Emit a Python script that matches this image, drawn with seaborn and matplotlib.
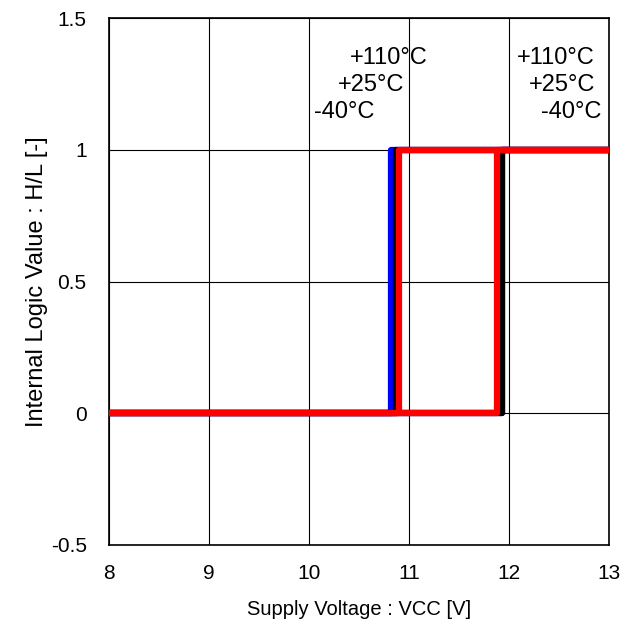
import numpy as np
import pandas as pd
import matplotlib
matplotlib.use("Agg")
import matplotlib.pyplot as plt
import seaborn as sns

# данные: пороги UVLO по температурам
temps = ['-40°C', '+25°C', '+110°C']
colors = ['#0000ff', '#000000', '#ff0000']
vccRise = [11.93, 11.93, 11.88]   # переход L -> H при росте VCC
vccFall = [10.82, 10.87, 10.90]   # переход H -> L при снижении VCC
vccMin, vccMax = 8, 13
logicLow, logicHigh = 0, 1

sns.set_theme(style="white")
plt.rcParams['font.family'] = ['Liberation Sans', 'DejaVu Sans']
plt.rcParams['text.color'] = 'black'

# собираем трассы (рост, затем спад)
rows = []
for t, up, down in zip(temps, vccRise, vccFall):
    xs = [vccMin, up, up, vccMax, down, down, vccMin]
    ys = [logicLow, logicLow, logicHigh, logicHigh, logicHigh, logicLow, logicLow]
    for i, (x, y) in enumerate(zip(xs, ys)):
        rows.append({'Temp': t, 'VCC': x, 'Logic': y, 'order': i})
dataSet = pd.DataFrame(rows)

fig = plt.figure(figsize=(6.37, 6.27), dpi=100)
ax = fig.add_axes([0.171, 0.131, 0.785, 0.840])

for t, c in zip(temps, colors):
    sub = dataSet[dataSet['Temp'] == t]
    sns.lineplot(data=sub, x='VCC', y='Logic', sort=False, estimator=None,
                 color=c, linewidth=4.5, ax=ax, legend=False, zorder=3)

ax.set_xlim(8, 13)
ax.set_ylim(-0.5, 1.5)
ax.set_xticks([8, 9, 10, 11, 12, 13])
ax.set_yticks([-0.5, 0, 0.5, 1, 1.5])
ax.set_yticklabels(['-0.5', '0', '0.5', '1', '1.5'])
ax.grid(True, color='black', linewidth=0.8)
for s in ax.spines.values():
    s.set_color('black')
    s.set_linewidth(1.2)
ax.tick_params(axis='x', labelsize=15, colors='black', length=0, pad=14)
ax.tick_params(axis='y', labelsize=15, colors='black', length=0, pad=16)
ax.set_xlabel("Supply Voltage : VCC [V]", fontsize=14.5, color='black', labelpad=12)
ax.set_ylabel("Internal Logic Value : H/L [-]", fontsize=17, color='black', labelpad=2)

# подписи температур
fs = 17
ax.text(11.19, 1.348, '+110°C', ha='right', va='center', fontsize=fs, color='black', zorder=5)
ax.text(10.95, 1.246, '+25°C', ha='right', va='center', fontsize=fs, color='black', zorder=5)
ax.text(10.05, 1.143, '-40°C', ha='left', va='center', fontsize=fs, color='black', zorder=5)
ax.text(12.08, 1.348, '+110°C', ha='left', va='center', fontsize=fs, color='black', zorder=5)
ax.text(12.86, 1.246, '+25°C', ha='right', va='center', fontsize=fs, color='black', zorder=5)
ax.text(12.92, 1.143, '-40°C', ha='right', va='center', fontsize=fs, color='black', zorder=5)

plt.savefig("out.png", dpi=100)
